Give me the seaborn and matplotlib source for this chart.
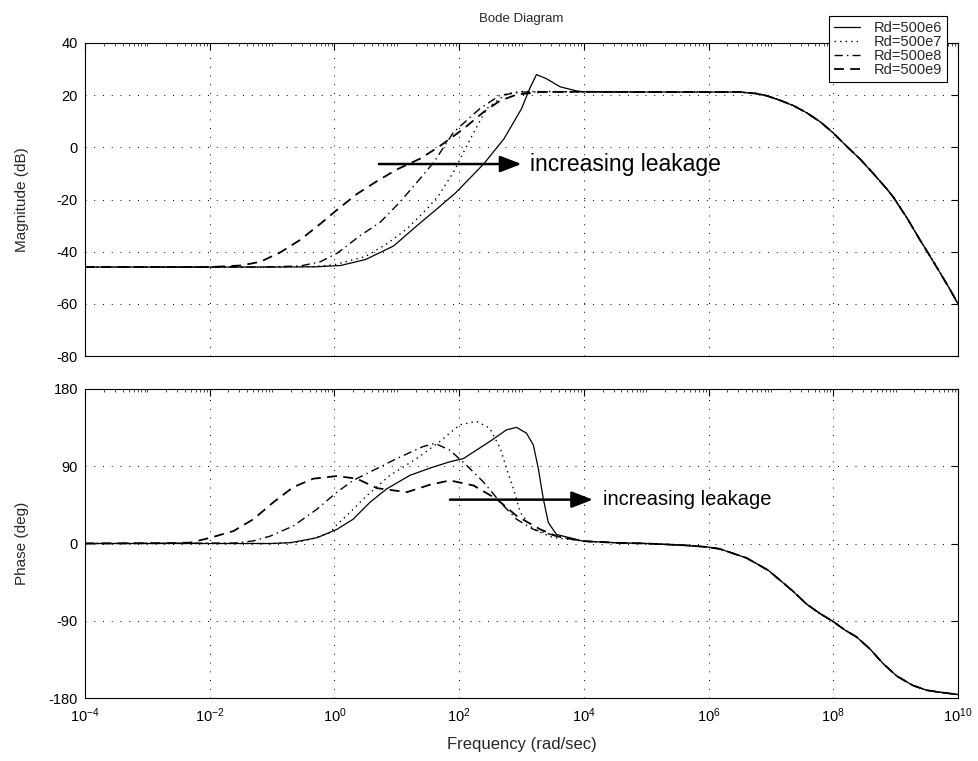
import numpy as np
import pandas as pd
import matplotlib
matplotlib.use("Agg")
import matplotlib.pyplot as plt
from matplotlib.ticker import FixedLocator, LogLocator, LogFormatterSciNotation, NullFormatter
import seaborn as sns

# ---------------------------------------------------------------------------
# Data: log10(frequency [rad/s]) and response for each leakage resistance
# ---------------------------------------------------------------------------
series_labels = ["Rd=500e6", "Rd=500e7", "Rd=500e8", "Rd=500e9"]

# Magnitude (dB), low/mid-frequency part of each curve
mag_w_6 = [-4, -1, -0.3, 0.1, 0.5, 0.95, 1.35, 1.6, 1.95, 2.4, 2.72, 3.0, 3.14, 3.24, 3.4, 3.62, 3.89, 4.0]
mag_db_6 = [-45.9, -45.9, -45.8, -45.3, -43.0, -37.8, -29.5, -24.5, -17.3, -6.2, 3.3, 14.8, 23.0, 27.9, 26.3, 23.2, 21.6, 21.3]

mag_w_7 = [-4, -1, -0.3, 0.0, 0.5, 0.84, 1.16, 1.48, 1.67, 1.91, 2.18, 2.44, 2.76, 3.0, 3.4, 4.0]
mag_db_7 = [-45.9, -45.9, -45.7, -45.0, -41.8, -37.0, -31.3, -23.7, -18.5, -9.5, 3.3, 14.8, 20.6, 21.4, 21.4, 21.3]

mag_w_8 = [-4, -1.2, -0.55, -0.23, 0.05, 0.41, 0.73, 1.05, 1.37, 1.6, 1.91, 2.33, 2.65, 3.0, 4.0]
mag_db_8 = [-45.9, -45.9, -45.5, -43.9, -40.5, -33.9, -28.8, -21.0, -12.1, -5.5, 5.8, 14.8, 19.9, 21.2, 21.3]

mag_w_9 = [-4, -2, -1.5, -1.19, -0.87, -0.55, -0.23, 0.04, 0.36, 0.68, 1.0, 1.37, 1.68, 2.07, 2.39, 2.65, 2.92, 3.3, 4.0]
mag_db_9 = [-45.9, -45.9, -45.3, -43.9, -40.3, -35.5, -29.4, -24.0, -17.9, -13.0, -8.5, -4.4, 0.3, 7.1, 13.5, 17.8, 20.2, 21.2, 21.3]

# Common high-frequency roll-off shared by all four curves
mag_tail_w = [4.0, 5.0, 6.0, 6.5, 6.77, 6.93, 7.15, 7.36, 7.57, 7.79, 8.0, 8.21, 8.43, 8.64,
              8.86, 8.96, 9.18, 9.39, 9.52, 9.71, 9.86, 10.0]
mag_tail_db = [21.3, 21.2, 21.2, 21.2, 20.6, 19.8, 18.0, 16.0, 13.3, 9.8, 5.5, 0.5, -4.5, -10.0,
               -16.0, -19.0, -27.0, -35.5, -40.5, -48.0, -54.0, -60.0]

# Phase (deg), low/mid-frequency part of each curve
ph_w_6 = [-4, -1, -0.7, -0.28, 0.04, 0.30, 0.57, 0.84, 1.21, 1.55, 1.85, 2.07, 2.49, 2.76, 2.92, 3.08, 3.19, 3.27, 3.35, 3.43, 3.56, 3.99]
ph_deg_6 = [0, 0, 1, 6.7, 16.5, 28.3, 48, 63.7, 79.4, 88.3, 95.2, 99, 118.8, 132.4, 135.3, 128.5, 114.7, 87.3, 51.9, 24.4, 10.6, 2.7]

ph_w_7 = [-4, -1, -0.6, -0.39, -0.07, 0.04, 0.25, 0.52, 0.89, 1.32, 1.69, 2.01, 2.28, 2.49, 2.66, 2.76, 2.87, 2.98, 3.19, 3.5, 3.99]
ph_deg_7 = [0, 0, 1.5, 4.7, 12.6, 22, 36.2, 55.8, 79.4, 99, 118.8, 138.3, 142.3, 134.4, 110.8, 87.3, 63.7, 36.2, 16.5, 7, 2.7]

ph_w_8 = [-4, -1.6, -1.3, -1.03, -0.66, -0.28, 0.04, 0.30, 0.68, 1.0, 1.42, 1.61, 1.85, 2.12, 2.39, 2.66, 2.92, 3.19, 3.56, 3.99]
ph_deg_8 = [0, 0.5, 3, 8.6, 20.4, 40, 59.8, 73.5, 87.3, 99, 112.9, 116.7, 108.8, 91, 71.6, 48, 28.3, 16.5, 8.6, 2.7]

ph_w_9 = [-4, -2.6, -2.31, -1.99, -1.62, -1.30, -0.98, -0.66, -0.34, 0.04, 0.36, 0.68, 1.16, 1.53, 1.85, 2.23, 2.6, 2.92, 3.3, 3.56, 3.99]
ph_deg_9 = [0, 0.5, 1, 6.7, 14.5, 28.3, 48, 65.7, 75.5, 78.6, 75.5, 64.5, 59.8, 68.4, 73.5, 67.6, 51.9, 32.2, 16.5, 8.6, 2.7]

# Common high-frequency phase roll-off
ph_tail_w = [3.99, 4.53, 5.0, 5.6, 5.97, 6.18, 6.4, 6.61, 6.77, 6.96, 7.15, 7.36, 7.57, 7.79,
             8.0, 8.19, 8.37, 8.59, 8.8, 9.02, 9.28, 9.5, 9.71, 10.0]
ph_tail_deg = [2.7, 0.8, 0, -2, -4, -6.3, -11.7, -16.9, -23.5, -31.4, -43, -56, -70.5, -81.8,
               -91, -101, -108.7, -123, -140, -154.5, -165.5, -171, -173.3, -176]

# Tick values
mag_ticks = [-80, -60, -40, -20, 0, 20, 40]
phase_ticks = [-180, -90, 0, 90, 180]
freq_tick_exponents = [-4, -2, 0, 2, 4, 6, 8, 10]

# Annotation arrows: (start exponent, end exponent, level, text exponent, text size)
mag_arrow = (0.714, 3.0, -6.4, 3.14, 16.5)
phase_arrow = (1.853, 4.146, 51.1, 4.31, 14.5)
arrow_text = "increasing leakage"


def build_frame(parts_w, parts_v, tail_w, tail_v, value_name):
    frames = []
    for label, w, v in zip(series_labels, parts_w, parts_v):
        ww = np.array(list(w) + list(tail_w[1:]), dtype=float)
        vv = np.array(list(v) + list(tail_v[1:]), dtype=float)
        frames.append(pd.DataFrame({"freq": 10.0 ** ww, value_name: vv, "series": label}))
    return pd.concat(frames, ignore_index=True)


mag_df = build_frame([mag_w_6, mag_w_7, mag_w_8, mag_w_9],
                     [mag_db_6, mag_db_7, mag_db_8, mag_db_9],
                     mag_tail_w, mag_tail_db, "mag")
phase_df = build_frame([ph_w_6, ph_w_7, ph_w_8, ph_w_9],
                       [ph_deg_6, ph_deg_7, ph_deg_8, ph_deg_9],
                       ph_tail_w, ph_tail_deg, "phase")

# ---------------------------------------------------------------------------
# Styling
# ---------------------------------------------------------------------------
sns.set_theme(style="white")
plt.rcParams["font.family"] = ["Liberation Sans", "DejaVu Sans"]
plt.rcParams["axes.unicode_minus"] = False
plt.rcParams["mathtext.fontset"] = "custom"
plt.rcParams["mathtext.rm"] = "Liberation Sans"
plt.rcParams["mathtext.it"] = "Liberation Sans:italic"
plt.rcParams["mathtext.bf"] = "Liberation Sans:bold"

line_dashes = {
    "Rd=500e6": "",
    "Rd=500e7": (1, 3),
    "Rd=500e8": (6, 3, 1, 3),
    "Rd=500e9": (5.5, 3.5),
}
line_widths = {"Rd=500e6": 0.9, "Rd=500e7": 1.0, "Rd=500e8": 1.0, "Rd=500e9": 1.3}

W, H = 979, 761
fig = plt.figure(figsize=(W / 100, H / 100), dpi=100)
fig.patch.set_facecolor("white")
ax_mag = fig.add_axes([85 / W, 1 - 356 / H, 873 / W, 313 / H])
ax_ph = fig.add_axes([85 / W, 1 - 698 / H, 873 / W, 309 / H])

for ax, df, col in ((ax_mag, mag_df, "mag"), (ax_ph, phase_df, "phase")):
    sns.lineplot(data=df, x="freq", y=col, style="series", style_order=series_labels,
                 dashes=line_dashes, color="black", estimator=None, sort=False,
                 legend=False, ax=ax)
    for line, label in zip(ax.get_lines(), series_labels):
        line.set_linewidth(line_widths[label])
        line.set_label(label)

    ax.set_xscale("log")
    ax.set_xlim(1e-4, 1e10)
    ax.xaxis.set_major_locator(FixedLocator([10.0 ** e for e in freq_tick_exponents]))
    ax.xaxis.set_minor_locator(LogLocator(base=10, subs=np.arange(1, 10), numticks=400))
    ax.xaxis.set_minor_formatter(NullFormatter())
    ax.grid(True, which="major", color="black", linestyle=(0, (1, 8)), linewidth=0.7)
    ax.tick_params(which="both", direction="in", top=True, right=True, colors="black",
                   labelsize=10.5)
    ax.tick_params(which="major", length=5, width=0.8, pad=5)
    ax.tick_params(which="minor", length=2, width=0.5)
    for sp in ax.spines.values():
        sp.set_color("black")
        sp.set_linewidth(0.8)
        sp.set_visible(True)
    ax.set_facecolor("white")

# Magnitude panel
ax_mag.set_ylim(-80, 40)
ax_mag.set_yticks(mag_ticks)
ax_mag.xaxis.set_major_formatter(NullFormatter())
ax_mag.set_xlabel("")
ax_mag.set_ylabel("Magnitude (dB)", fontsize=11)
ax_mag.yaxis.set_label_coords(-0.064, 0.5)
ax_mag.set_title("Bode Diagram", fontsize=9.5, pad=15)

# Phase panel
ax_ph.set_ylim(-180, 180)
ax_ph.set_yticks(phase_ticks)
ax_ph.xaxis.set_major_formatter(LogFormatterSciNotation())
ax_ph.tick_params(axis="x", which="major", pad=6)
ax_ph.set_ylabel("Phase (deg)", fontsize=11)
ax_ph.yaxis.set_label_coords(-0.064, 0.5)
ax_ph.set_xlabel("Frequency (rad/sec)", fontsize=12)
ax_ph.xaxis.set_label_coords(0.5, -0.125)

# Arrows with text
arrow_props = dict(arrowstyle="-|>,head_length=1.3,head_width=0.5", color="black",
                   lw=1.8, mutation_scale=10, shrinkA=0, shrinkB=0)
for ax, (w0, w1, lvl, tx, fs) in ((ax_mag, mag_arrow), (ax_ph, phase_arrow)):
    ax.annotate("", xy=(10.0 ** w1, lvl), xytext=(10.0 ** w0, lvl), arrowprops=arrow_props)
    ax.text(10.0 ** tx, lvl, arrow_text, fontsize=fs, ha="left", va="center", color="black")

# Legend spanning the top edge of the magnitude panel
leg = ax_mag.legend(ax_mag.get_lines()[:4], series_labels, loc="upper right",
                    bbox_to_anchor=(947 / W, 1 - 16 / H), bbox_transform=fig.transFigure,
                    frameon=True, fancybox=False, edgecolor="black", framealpha=1,
                    fontsize=10.5, handlelength=1.8, labelspacing=0.0, borderpad=0.35,
                    handletextpad=0.9, borderaxespad=0)
leg.get_frame().set_linewidth(0.8)

fig.savefig("out.png", dpi=100, facecolor="white")
